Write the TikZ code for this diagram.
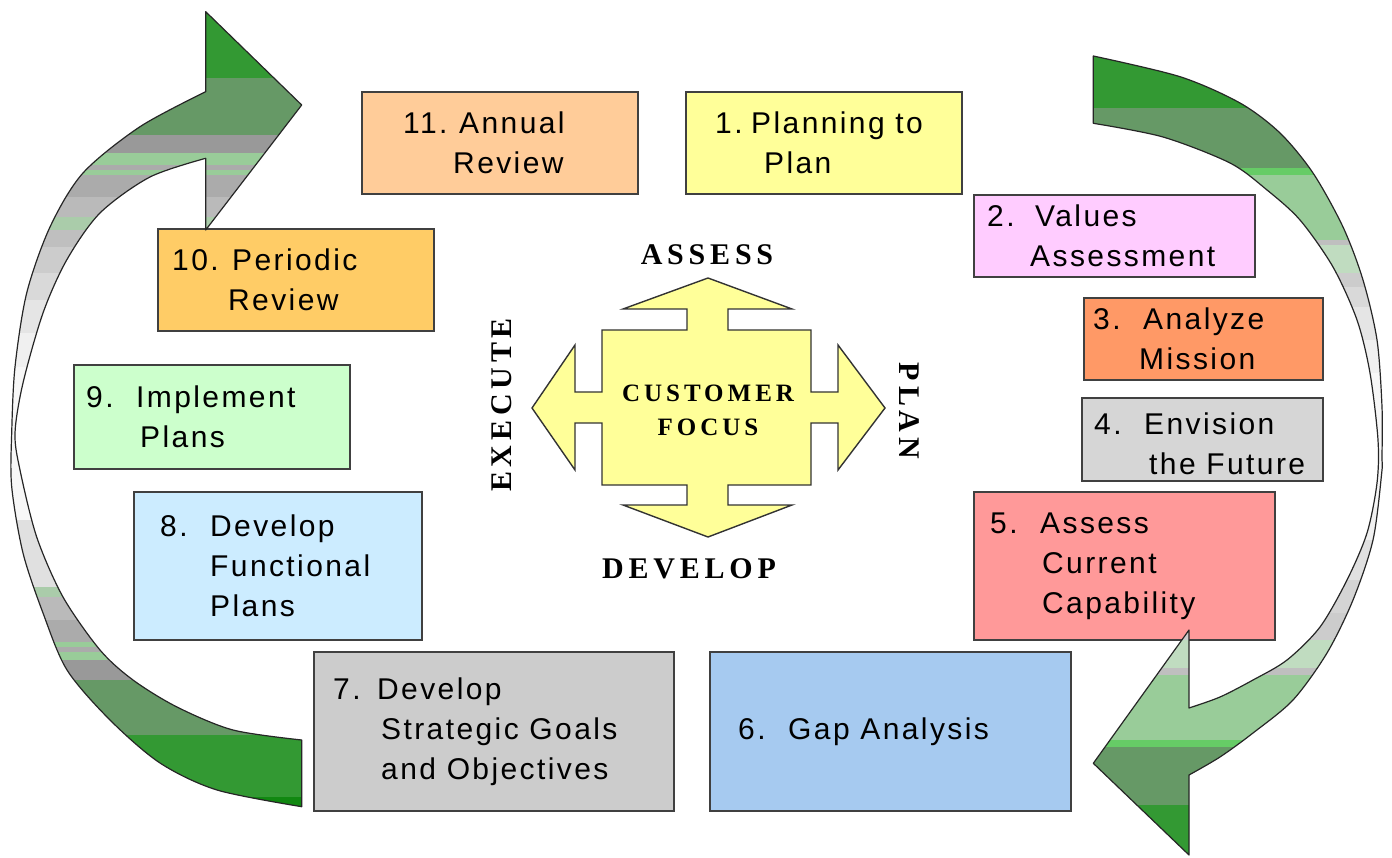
\documentclass[tikz,border=0pt]{standalone}
\usepackage{fontspec}
\setmainfont{Liberation Sans}
\newfontfamily\boxfont[LetterSpace=8]{Liberation Sans}
\newfontfamily\hubfont[LetterSpace=16]{Liberation Serif}
\usetikzlibrary{positioning}

% box fills
\definecolor{annualfill}{HTML}{FFCC99}
\definecolor{planfill}{HTML}{FFFF99}
\definecolor{valuesfill}{HTML}{FFCCFF}
\definecolor{missionfill}{HTML}{FF9966}
\definecolor{envisionfill}{HTML}{D6D6D6}
\definecolor{capfill}{HTML}{FF9999}
\definecolor{gapfill}{HTML}{A6CAF0}
\definecolor{goalsfill}{HTML}{CCCCCC}
\definecolor{funcfill}{HTML}{CCECFF}
\definecolor{implfill}{HTML}{CCFFCC}
\definecolor{periodfill}{HTML}{FFCC66}
\definecolor{boxline}{HTML}{404040}
% ribbon bands
\definecolor{ribDark}{HTML}{339933}
\definecolor{ribDeep}{HTML}{118811}
\definecolor{ribMoss}{HTML}{669966}
\definecolor{ribSage}{HTML}{99CC99}
\definecolor{ribMint}{HTML}{66CC66}
\definecolor{ribSoft}{HTML}{AACCAA}
\definecolor{ribPale}{HTML}{C0DCC0}

% number column for the step texts
\newcommand{\stepno}[2][50pt]{\makebox[#1][l]{#2}}

% outlines of the two turning arrows
\newcommand{\leftribbon}{(205.7,91.7) -- (205.7,11.7) -- (301.7,105) -- (205.7,230) -- (205.7,158.3)
  -- plot[smooth] coordinates {(205.7,158.3) (150,177) (100,213) (66.7,260) (43,313) (23,383) (15,433)
     (20,470) (36.7,537) (63,597) (100,650) (133,680) (177,707) (233,730) (301.7,740)}
  -- (301.7,806.7)
  -- plot[smooth] coordinates {(301.7,806.7) (217,790) (160,763) (110,720) (67,670) (43,613) (23,553)
     (11.7,486.7) (11.7,433) (15,367) (26.7,293) (50,227) (83,173) (140,126.7) (205.7,91.7)} -- cycle}
\newcommand{\rightribbon}{(1093.3,56)
  -- plot[smooth] coordinates {(1093.3,56) (1180,76.7) (1240,103) (1280,133) (1313,173) (1343,227)
     (1363,280) (1377,340) (1382,407) (1382,457) (1381.7,473) (1373,540) (1353,600) (1327,653)
     (1293,700) (1253,733) (1220,757) (1189,775)}
  -- (1189,855) -- (1093.3,763.3) -- (1189,630) -- (1189,708)
  -- plot[smooth] coordinates {(1189,708) (1220,697) (1253,680) (1287,660) (1320,627) (1347,580)
     (1367,533) (1377,483) (1378,440) (1370,373) (1357,320) (1333,267) (1300,220) (1267,190)
     (1230,163) (1163,137) (1093.3,123.3)} -- cycle}

\begin{document}
\begin{tikzpicture}[
  x=1pt, y=-1pt,
  stepbox/.style={draw=boxline, line width=1.6pt, anchor=north west, inner sep=0pt},
  steptext/.style={anchor=west, align=left, inner sep=0pt, font=\boxfont\fontsize{30}{40}\selectfont},
  hublabel/.style={font=\hubfont\bfseries\fontsize{30}{36}\selectfont, inner sep=0pt},
  hubtext/.style={align=center, inner sep=0pt, font=\hubfont\bfseries\fontsize{25}{34}\selectfont},
  ribbonline/.style={draw=black!85, line width=1.2pt, line join=round}
]
\useasboundingbox (0,0) rectangle (1392,858);

% steps of the cycle
\node[stepbox, fill=annualfill, minimum width=276pt, minimum height=102pt] (annual) at (361,91) {};
\node[stepbox, fill=planfill, minimum width=276pt, minimum height=102pt] (planning) at (685,91) {};
\node[stepbox, fill=valuesfill, minimum width=281pt, minimum height=82pt] (values) at (973,194) {};
\node[stepbox, fill=missionfill, minimum width=239pt, minimum height=82pt] (mission) at (1083,297) {};
\node[stepbox, fill=envisionfill, minimum width=241pt, minimum height=83pt] (envision) at (1081,397) {};
\node[stepbox, fill=capfill, minimum width=301pt, minimum height=148pt] (capability) at (973,491) {};
\node[stepbox, fill=gapfill, minimum width=361pt, minimum height=159pt] (gap) at (709,651) {};
\node[stepbox, fill=goalsfill, minimum width=360pt, minimum height=159pt] (goals) at (313,651) {};
\node[stepbox, fill=funcfill, minimum width=288pt, minimum height=148pt] (functional) at (133,491) {};
\node[stepbox, fill=implfill, minimum width=276pt, minimum height=104pt] (implement) at (73,364) {};
\node[stepbox, fill=periodfill, minimum width=276pt, minimum height=102pt] (periodic) at (157,228) {};

\node[steptext] (annual-t) at ([xshift=42pt]annual.west) {\stepno[56pt]{11.}Annual\\\stepno{}Review};
\node[steptext] (planning-t) at ([xshift=30pt]planning.west) {\stepno[36pt]{1.}Planning to\\\stepno[49pt]{}Plan};
\node[steptext] (values-t) at ([xshift=14pt]values.west) {\stepno[48pt]{2.}Values\\\stepno[43pt]{}Assessment};
\node[steptext] (mission-t) at ([xshift=10pt]mission.west) {\stepno{3.}Analyze\\\stepno[46pt]{}Mission};
\node[steptext] (envision-t) at ([xshift=13pt,yshift=-4pt]envision.west) {\stepno{4.}Envision\\\stepno[55pt]{}the Future};
\node[steptext] (capability-t) at ([xshift=17pt]capability.west) {\stepno{5.}Assess\\\stepno[52pt]{}Current\\\stepno[52pt]{}Capability};
\node[steptext] (gap-t) at ([xshift=29pt]gap.west) {\stepno{6.}Gap Analysis};
\node[steptext] (goals-t) at ([xshift=20pt]goals.west) {\stepno[44pt]{7.}Develop\\\stepno[48pt]{}Strategic Goals\\\stepno[48pt]{}and Objectives};
\node[steptext] (functional-t) at ([xshift=27pt]functional.west) {\stepno{8.}Develop\\\stepno{}Functional\\\stepno{}Plans};
\node[steptext] (implement-t) at ([xshift=13pt]implement.west) {\stepno{9.}Implement\\\stepno[54pt]{}Plans};
\node[steptext] (periodic-t) at ([xshift=15pt]periodic.west) {\stepno[60pt]{10.}Periodic\\\stepno[56pt]{}Review};

% four-way arrow in the middle
\draw[draw=black!80, line width=1.4pt, fill=planfill, line join=miter]
  (708,278) -- (792,309) -- (728,309) -- (728,330) -- (811,330) -- (811,392) -- (838,392)
  -- (838,345) -- (885,408) -- (838,470) -- (838,423) -- (811,423) -- (811,485) -- (728,485)
  -- (728,505) -- (792,505) -- (708,537) -- (623,505) -- (687,505) -- (687,485) -- (602,485)
  -- (602,423) -- (575,423) -- (575,470) -- (532,408) -- (575,345) -- (575,392) -- (602,392)
  -- (602,330) -- (687,330) -- (687,309) -- (623,309) -- cycle;
\node[hubtext] (hub) at (708,410) {CUSTOMER\\FOCUS};
\node[hublabel] (assess) at (707,255) {ASSESS};
\node[hublabel] (plan) at (909,411) [rotate=-90] {PLAN};
\node[hublabel] (develop) at (689,569) {DEVELOP};
\node[hublabel] (execute) at (502,405) [rotate=90] {EXECUTE};

% left arrow, coming back up to the top
\begin{scope}
  \clip \leftribbon;
  \foreach \ya/\yb/\col in {0/78/ribDark, 78/135/ribMoss, 135/153/black!40, 153/165/ribSage,
      165/170/black!33, 170/175/ribSage, 175/197/black!33, 197/217/black!27, 217/230/ribSoft,
      230/247/black!25, 247/273/black!20, 273/300/black!15, 300/333/black!10, 333/367/black!6,
      367/520/black!3, 520/587/black!12, 587/597/ribSoft, 597/620/black!27, 620/642/black!33,
      642/647/ribSage, 647/652/black!33, 652/660/ribSage, 660/680/black!40, 680/735/ribMoss,
      735/797/ribDark, 797/820/ribDeep}
    \fill[\col] (0,\ya) rectangle (320,\yb);
\end{scope}
\draw[ribbonline] \leftribbon;

% right arrow, going down to the bottom
\begin{scope}
  \clip \rightribbon;
  \foreach \ya/\yb/\col in {40/108/ribDark, 108/168/ribMoss, 168/175/ribMint, 175/240/ribSage,
      240/245/black!25, 245/273/ribPale, 273/287/black!20, 287/307/black!15, 307/340/black!10,
      340/373/black!6, 373/507/black!3, 507/540/black!6, 540/580/black!12, 580/613/black!17,
      613/640/black!20, 640/668/ribPale, 668/675/black!25, 675/740/ribSage, 740/747/ribMint,
      747/805/ribMoss, 805/860/ribDark}
    \fill[\col] (1080,\ya) rectangle (1392,\yb);
\end{scope}
\draw[ribbonline] \rightribbon;
\end{tikzpicture}
\end{document}
